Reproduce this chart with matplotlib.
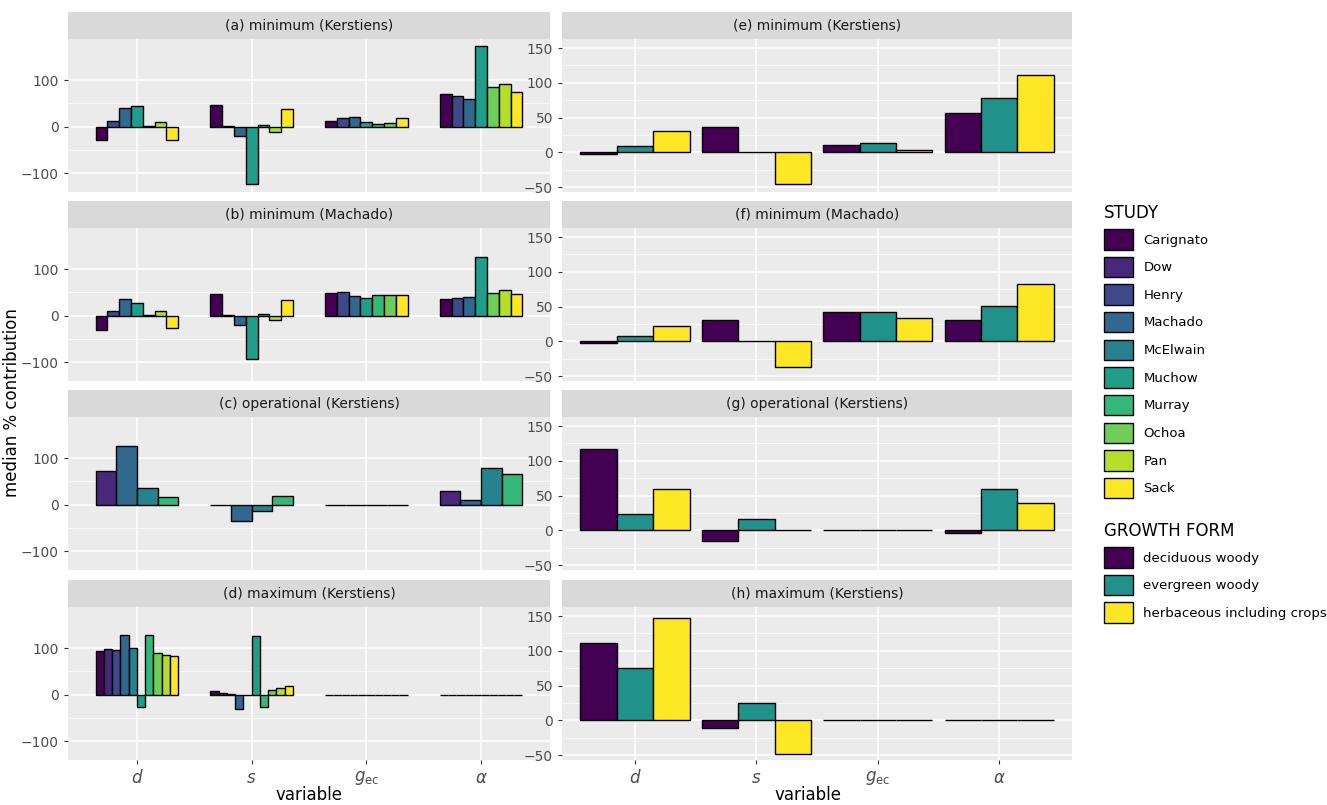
import numpy as np
import matplotlib.pyplot as plt
from matplotlib.patches import Patch

variables = ["$d$", "$s$", "$g_{\\mathrm{ec}}$", "$\\alpha$"]
studies = ["Carignato", "Dow", "Henry", "Machado", "McElwain", "Muchow",
           "Murray", "Ochoa", "Pan", "Sack"]
forms = ["deciduous woody", "evergreen woody", "herbaceous including crops"]

# left panels: per variable, list of (study, value)
panel_a = [
    [("Carignato", -28), ("Henry", 13), ("Machado", 41), ("Muchow", 44), ("Murray", 2), ("Pan", 11), ("Sack", -29)],
    [("Carignato", 46), ("Dow", 2), ("Machado", -20), ("Muchow", -123), ("Murray", 3), ("Pan", -11), ("Sack", 37)],
    [("Carignato", 13), ("Henry", 18), ("Machado", 21), ("Muchow", 9), ("Murray", 6), ("Ochoa", 7), ("Sack", 19)],
    [("Carignato", 71), ("Henry", 66), ("Machado", 60), ("Muchow", 173), ("Ochoa", 86), ("Pan", 92), ("Sack", 74)],
]
panel_b = [
    [("Carignato", -31), ("Henry", 11), ("Machado", 36), ("Muchow", 28), ("Murray", 2), ("Pan", 9), ("Sack", -26)],
    [("Carignato", 47), ("Dow", 2), ("Machado", -19), ("Muchow", -93), ("Murray", 3), ("Pan", -9), ("Sack", 34)],
    [("Carignato", 49), ("Henry", 50), ("Machado", 43), ("Muchow", 39), ("Murray", 45), ("Ochoa", 45), ("Sack", 45)],
    [("Carignato", 36), ("Henry", 39), ("Machado", 41), ("Muchow", 126), ("Ochoa", 49), ("Pan", 55), ("Sack", 46)],
]
panel_c = [
    [("Dow", 73), ("Machado", 125), ("McElwain", 36), ("Murray", 17)],
    [("Dow", 0), ("Machado", -36), ("McElwain", -13), ("Murray", 18)],
    [("Dow", 0), ("Machado", 0), ("McElwain", 0), ("Murray", 0)],
    [("Dow", 29), ("Machado", 11), ("McElwain", 78), ("Murray", 66)],
]
panel_d = [
    list(zip(studies, [93, 97, 96, 129, 101, -27, 127, 89, 85, 82])),
    list(zip(studies, [8, 3, 1, -30, -1, 126, -27, 10, 14, 18])),
    list(zip(studies, [0] * 10)),
    list(zip(studies, [0] * 10)),
]
left_titles = ["(a) minimum (Kerstiens)", "(b) minimum (Machado)",
               "(c) operational (Kerstiens)", "(d) maximum (Kerstiens)"]

# right panels: rows = variable, cols = growth form
panel_e = [[-2, 9, 31], [36, 0, -45], [10, 13, 3], [57, 78, 111]]
panel_f = [[-2, 8, 22], [30, 0, -37], [42, 42, 33], [30, 51, 82]]
panel_g = [[117, 24, 59], [-15, 16, 0], [0, 0, 0], [-4, 59, 40]]
panel_h = [[111, 75, 147], [-11, 25, -48], [0, 0, 0], [0, 0, 0]]
right_titles = ["(e) minimum (Kerstiens)", "(f) minimum (Machado)",
                "(g) operational (Kerstiens)", "(h) maximum (Kerstiens)"]

study_col = dict(zip(studies, plt.cm.viridis(np.linspace(0, 1, 10))))
form_col = plt.cm.viridis(np.linspace(0, 1, 3))

W, H = 1327, 805
fig = plt.figure(figsize=(W / 100, H / 100), dpi=100)
BG = "#ebebeb"

def style(ax, ylim, yticks, show_x):
    ax.set_facecolor(BG)
    ax.set_xlim(0.4, 4.6)
    ax.set_ylim(*ylim)
    ax.set_yticks(yticks)
    ax.set_yticks([(a + b) / 2 for a, b in zip(yticks[:-1], yticks[1:])], minor=True)
    ax.set_xticks(range(1, 5))
    ax.grid(True, which="major", color="white", lw=1.1)
    ax.grid(True, which="minor", axis="y", color="white", lw=0.5)
    ax.set_axisbelow(True)
    for s in ax.spines.values():
        s.set_visible(False)
    ax.tick_params(which="minor", length=0)
    ax.tick_params(which="major", colors="#333333", labelcolor="#4d4d4d", labelsize=10, length=3)
    if show_x:
        ax.set_xticklabels(variables, fontsize=12)
    else:
        ax.set_xticklabels([])
        ax.tick_params(axis="x", length=0)

def strip(x0, y0, w, title):
    sax = fig.add_axes([x0 / W, 1 - (y0 + 27) / H, w / W, 27 / H])
    sax.set_facecolor("#d9d9d9")
    sax.set_xticks([]); sax.set_yticks([])
    for s in sax.spines.values():
        s.set_visible(False)
    sax.text(0.5, 0.5, title, ha="center", va="center", fontsize=10, color="#1a1a1a")

rows = [12, 201, 390, 580]
ph = 153
for i, (data, title) in enumerate(zip([panel_a, panel_b, panel_c, panel_d], left_titles)):
    y0 = rows[i]
    strip(68, y0, 482, title)
    ax = fig.add_axes([68 / W, 1 - (y0 + 27 + ph) / H, 482 / W, ph / H])
    for j, group in enumerate(data):
        n = len(group)
        w = 0.72 / n
        for k, (st, v) in enumerate(group):
            ax.bar(j + 1 - 0.36 + w * (k + 0.5), v, width=w, color=study_col[st],
                   edgecolor="black", lw=1)
    style(ax, (-140, 188), [-100, 0, 100], i == 3)

for i, (data, title) in enumerate(zip([panel_e, panel_f, panel_g, panel_h], right_titles)):
    y0 = rows[i]
    strip(562, y0, 510, title)
    ax = fig.add_axes([562 / W, 1 - (y0 + 27 + ph) / H, 510 / W, ph / H])
    for j, vals in enumerate(data):
        w = 0.9 / 3
        for k, v in enumerate(vals):
            ax.bar(j + 1 - 0.45 + w * (k + 0.5), v, width=w, color=form_col[k],
                   edgecolor="black", lw=1)
    style(ax, (-57, 163), [-50, 0, 50, 100, 150], i == 3)

fig.text(309 / W, 1 - 795 / H, "variable", ha="center", va="center", fontsize=12)
fig.text(808 / W, 1 - 795 / H, "variable", ha="center", va="center", fontsize=12)
fig.text(12 / W, 0.5, "median % contribution", rotation=90, ha="center", va="center", fontsize=12)

h1 = [Patch(facecolor=study_col[s], edgecolor="black") for s in studies]
fig.legend(h1, studies, title="STUDY", loc="upper left", bbox_to_anchor=(1092 / W, 1 - 192 / H),
           frameon=False, fontsize=9.5, title_fontsize=12, alignment="left",
           handlelength=2.2, handleheight=2.0, labelspacing=0.55)
h2 = [Patch(facecolor=c, edgecolor="black") for c in form_col]
fig.legend(h2, forms, title="GROWTH FORM", loc="upper left", bbox_to_anchor=(1092 / W, 1 - 510 / H),
           frameon=False, fontsize=9.5, title_fontsize=12, alignment="left",
           handlelength=2.2, handleheight=2.0, labelspacing=0.55)

fig.savefig("out.png", dpi=100)
